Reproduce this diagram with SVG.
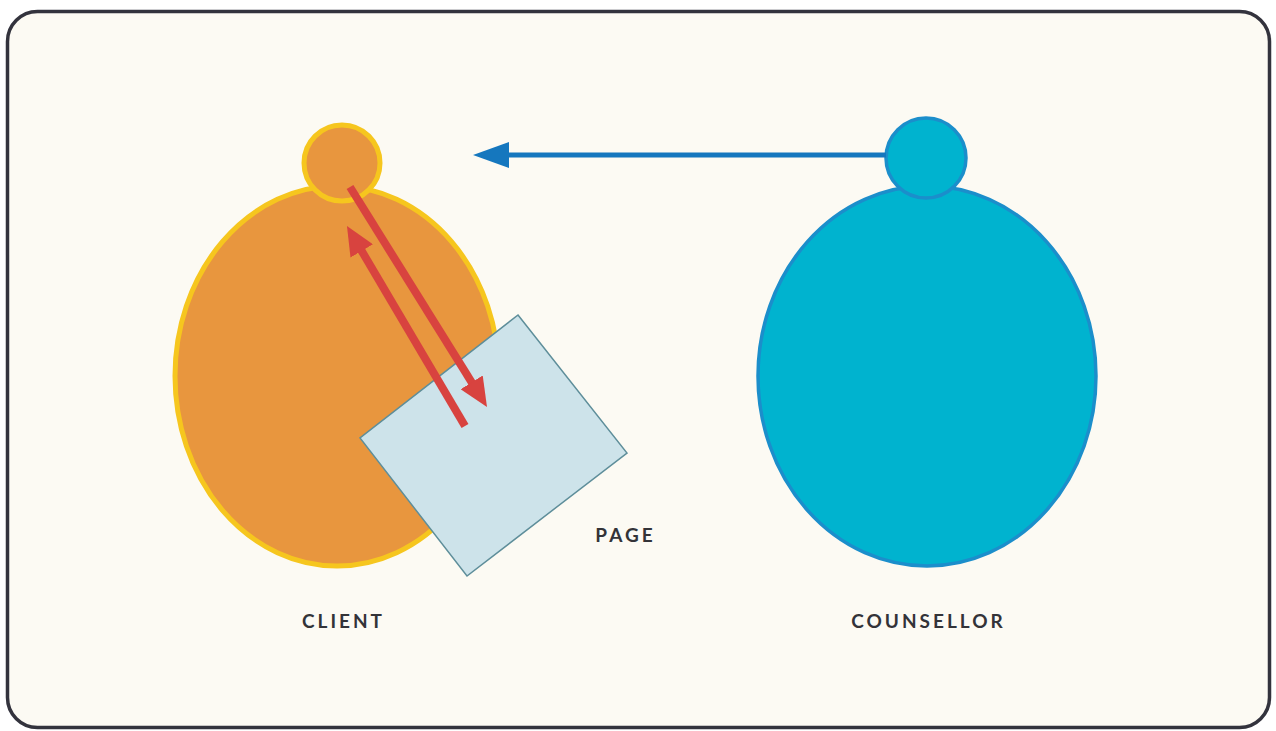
<svg xmlns="http://www.w3.org/2000/svg" width="1276" height="731" viewBox="0 0 1276 731">
<style>
.lbl{font-family:Lato,"Open Sans","Liberation Sans",sans-serif;font-size:19px;font-weight:700;fill:#333338;letter-spacing:3px;text-anchor:middle}
.client{fill:#E8963E;stroke:#F6C61E;stroke-width:5}
.couns{fill:#00B3CF;stroke:#1B8ECB;stroke-width:3.5}
.red{stroke:#D8433F;stroke-width:8;fill:none}
</style>
<defs>
<marker id="redHead" markerUnits="userSpaceOnUse" markerWidth="30" markerHeight="26" refX="1" refY="13" orient="auto"><path d="M0,0 L29,13 L0,26 Z" fill="#D8433F"/></marker>
<marker id="blueHead" markerUnits="userSpaceOnUse" markerWidth="37" markerHeight="28" refX="1" refY="14" orient="auto"><path d="M0,1 L36,14 L0,27 Z" fill="#1577BE"/></marker>
</defs>
<rect x="0" y="0" width="1276" height="731" fill="#ffffff"/>
<rect x="7.5" y="11.5" width="1262" height="716" rx="30" fill="#FCFAF3" stroke="#33333d" stroke-width="3.5"/>
<g id="client">
<ellipse class="client" cx="337" cy="376" rx="162" ry="190"/>
<circle class="client" cx="342" cy="163" r="38"/>
</g>
<g id="counsellor">
<ellipse class="couns" cx="927" cy="376" rx="169" ry="190"/>
<circle class="couns" cx="926" cy="158" r="40"/>
</g>
<g id="page">
<polygon points="518,315 627,453 467,576 360,438" fill="#CDE3EA" stroke="#5E8E9A" stroke-width="1.5"/>
</g>
<g id="connectors">
<line x1="886" y1="155" x2="508" y2="155" stroke="#1577BE" stroke-width="5" marker-end="url(#blueHead)"/>
<line class="red" x1="350" y1="187" x2="472.2" y2="383.2" marker-end="url(#redHead)"/>
<line class="red" x1="465" y1="426" x2="361.2" y2="250.1" marker-end="url(#redHead)"/>
</g>
<g id="labels">
<text class="lbl" x="343.5" y="628">CLIENT</text>
<text class="lbl" x="928.5" y="628">COUNSELLOR</text>
<text class="lbl" x="625.5" y="542">PAGE</text>
</g>
</svg>
